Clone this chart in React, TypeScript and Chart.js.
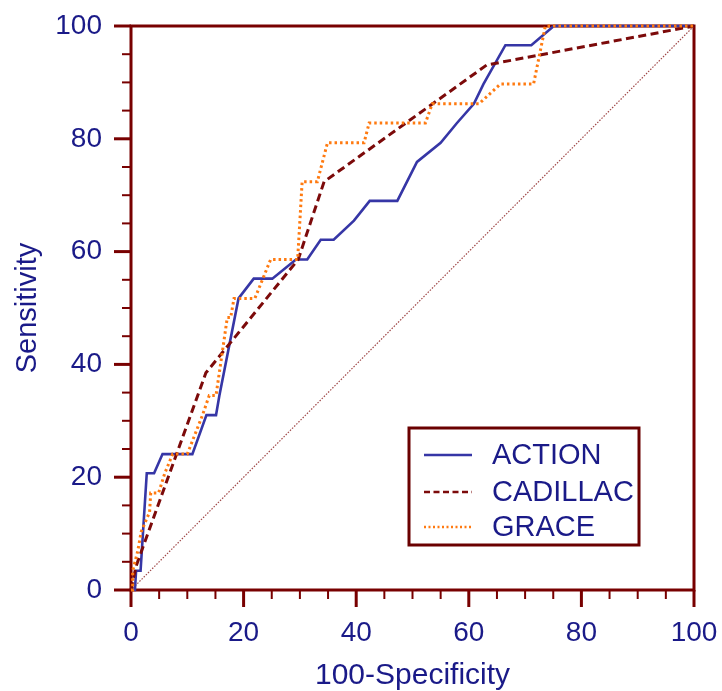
import React, { useEffect, useRef } from "react";
import { Chart, registerables } from "chart.js";

Chart.register(...registerables);

// ---- data ----
const SERIES_LABELS = ["ACTION", "CADILLAC", "GRACE"];

const ACTION_X = [0, 0.7, 0.9, 1.7, 2.8, 4.1, 5.6, 10.9, 13.4, 15.1, 15.7, 19.1, 21.8, 25.1, 29.3, 31.3, 33.7, 36.0, 39.6, 42.4, 47.3, 50.8, 55.0, 57.9, 60.9, 62.6, 66.5, 71.1, 75.1, 100];
const ACTION_Y = [0, 0, 3.4, 3.4, 20.7, 20.7, 24.1, 24.1, 31.0, 31.0, 34.5, 51.7, 55.2, 55.2, 58.6, 58.6, 62.1, 62.1, 65.5, 69.0, 69.0, 75.9, 79.3, 82.8, 86.2, 89.7, 96.6, 96.6, 100, 100];

const CADILLAC_X = [0, 0.4, 1.0, 13.3, 29.7, 34.3, 63.2, 100];
const CADILLAC_Y = [0, 2.0, 4.5, 38.5, 58.6, 72.4, 93.1, 100];

const GRACE_X = [0, 0.3, 0.3, 1.2, 1.8, 3.3, 3.5, 4.9, 6.0, 7.4, 10.0, 12.7, 13.9, 15.1, 16.6, 17.1, 17.7, 18.3, 22.0, 24.8, 29.6, 30.4, 33.1, 34.9, 41.4, 42.3, 52.3, 53.5, 61.8, 65.6, 71.5, 73.6, 100];
const GRACE_Y = [0, 0, 3.4, 6.9, 10.3, 13.8, 17.2, 17.2, 20.7, 24.1, 24.1, 31.0, 34.5, 34.5, 44.8, 48.3, 48.3, 51.7, 51.7, 58.6, 58.6, 72.4, 72.4, 79.3, 79.3, 82.8, 82.8, 86.2, 86.2, 89.7, 89.7, 100, 100];

const DIAG_X = [0, 100];
const DIAG_Y = [0, 100];

const AXIS_MIN = 0;
const AXIS_MAX = 100;
const TICK_STEP = 5;
const LABEL_STEP = 20;
const X_TITLE = "100-Specificity";
const Y_TITLE = "Sensitivity";

// ---- styles ----
const FONT = "'Liberation Sans', Arial, sans-serif";
const TEXT_COLOR = "#1a1a88";
const AXIS_COLOR = "#780000";
const COLORS = ["#3636a6", "#7c0a0a", "#ff7a10"];
const DASHES = [[], [8, 4.5], [2.5, 3]];
const WIDTHS = [2.6, 3, 3];

const toPts = (xs: number[], ys: number[]) => xs.map((x, i) => ({ x, y: ys[i] }));

const framePlugin = {
  id: "frameTicks",
  beforeDatasetsDraw(chart: any) {
    const { ctx, chartArea, scales } = chart;
    const { left, right, top, bottom } = chartArea;
    const x = scales.x;
    const y = scales.y;
    ctx.save();
    ctx.strokeStyle = AXIS_COLOR;
    ctx.lineCap = "butt";
    for (const t of x.ticks) {
      const major = t.value % LABEL_STEP === 0;
      const px = x.getPixelForValue(t.value);
      ctx.lineWidth = major ? 3 : 2;
      ctx.beginPath();
      ctx.moveTo(px, bottom);
      ctx.lineTo(px, bottom + (major ? 17 : 9));
      ctx.stroke();
    }
    for (const t of y.ticks) {
      const major = t.value % LABEL_STEP === 0;
      const py = y.getPixelForValue(t.value);
      ctx.lineWidth = major ? 3 : 2;
      ctx.beginPath();
      ctx.moveTo(left, py);
      ctx.lineTo(left - (major ? 17 : 9), py);
      ctx.stroke();
    }
    ctx.lineWidth = 3;
    ctx.strokeRect(left, top, right - left, bottom - top);
    ctx.restore();
  },
};

const legendPlugin = {
  id: "boxLegend",
  afterDraw(chart: any) {
    const { ctx } = chart;
    const bx = 409, by = 428, bw = 230, bh = 117;
    ctx.save();
    ctx.fillStyle = "#ffffff";
    ctx.fillRect(bx, by, bw, bh);
    ctx.strokeStyle = "#6a0000";
    ctx.lineWidth = 3;
    ctx.strokeRect(bx, by, bw, bh);
    const rows = [455, 492, 527];
    chart.data.datasets.forEach((ds: any) => {
      if (!ds.label) return;
      const k = SERIES_LABELS.indexOf(ds.label);
      const yy = rows[k];
      ctx.strokeStyle = ds.borderColor;
      ctx.lineWidth = k === 0 ? 2.4 : 2.6;
      ctx.setLineDash(k === 1 ? [6, 3.5] : k === 2 ? [2, 2.5] : []);
      ctx.beginPath();
      ctx.moveTo(424, yy);
      ctx.lineTo(472, yy);
      ctx.stroke();
      ctx.setLineDash([]);
      ctx.fillStyle = TEXT_COLOR;
      ctx.font = `29px ${FONT}`;
      ctx.textBaseline = "middle";
      ctx.textAlign = "left";
      ctx.fillText(ds.label, 492, yy + 1);
    });
    ctx.restore();
  },
};

export default function App() {
  const ref = useRef<HTMLCanvasElement | null>(null);
  useEffect(() => {
    if (!ref.current) return;
    const series = [
      { xs: ACTION_X, ys: ACTION_Y },
      { xs: CADILLAC_X, ys: CADILLAC_Y },
      { xs: GRACE_X, ys: GRACE_Y },
    ];
    const datasets: any[] = series.map((s, i) => ({
      label: SERIES_LABELS[i],
      data: toPts(s.xs, s.ys),
      showLine: true,
      borderColor: COLORS[i],
      backgroundColor: COLORS[i],
      borderWidth: WIDTHS[i],
      borderDash: DASHES[i],
      pointRadius: 0,
      tension: 0,
      clip: false,
      order: 3 - i,
    }));
    datasets.push({
      label: "",
      data: toPts(DIAG_X, DIAG_Y),
      showLine: true,
      borderColor: "#a04848",
      borderWidth: 1.2,
      borderDash: [1.5, 1.5],
      pointRadius: 0,
      order: 10,
    });
    const tickFont = { family: FONT, size: 28 };
    const chart = new Chart(ref.current, {
      type: "scatter",
      data: { datasets },
      options: {
        animation: false,
        responsive: false,
        devicePixelRatio: 1,
        layout: { padding: { left: 0, top: 26, right: 28, bottom: 0 } },
        plugins: { legend: { display: false }, tooltip: { enabled: false } },
        scales: {
          x: {
            type: "linear",
            min: AXIS_MIN,
            max: AXIS_MAX,
            grid: { display: true, drawOnChartArea: false, drawTicks: true, tickLength: 17, color: "transparent" },
            border: { display: false },
            ticks: {
              stepSize: TICK_STEP,
              autoSkip: false,
              maxRotation: 0,
              padding: 9,
              color: TEXT_COLOR,
              font: tickFont,
              callback: (v: any) => (Number(v) % LABEL_STEP === 0 ? String(v) : ""),
            },
            title: { display: true, text: X_TITLE, color: TEXT_COLOR, font: { family: FONT, size: 30 }, padding: { top: 0, bottom: -3 } },
            afterFit: (s: any) => { s.height = 101; s.paddingLeft = 0; s.paddingRight = 0; },
          },
          y: {
            type: "linear",
            min: AXIS_MIN,
            max: AXIS_MAX,
            grid: { display: true, drawOnChartArea: false, drawTicks: true, tickLength: 17, color: "transparent" },
            border: { display: false },
            ticks: {
              stepSize: TICK_STEP,
              autoSkip: false,
              padding: 12,
              color: TEXT_COLOR,
              font: tickFont,
              callback: (v: any) => (Number(v) % LABEL_STEP === 0 ? String(v) : ""),
            },
            title: { display: true, text: Y_TITLE, color: TEXT_COLOR, font: { family: FONT, size: 29 }, padding: { top: 11, bottom: 0 } },
            afterFit: (s: any) => { s.width = 131; s.paddingTop = 0; s.paddingBottom = 0; },
          },
        },
      },
      plugins: [framePlugin, legendPlugin],
    });
    return () => chart.destroy();
  }, []);
  return (
    <div style={{ position: "absolute", left: 0, top: 0, width: 722, height: 691, background: "#fff" }}>
      <canvas ref={ref} width={722} height={691} style={{ width: 722, height: 691, display: "block" }} />
    </div>
  );
}
